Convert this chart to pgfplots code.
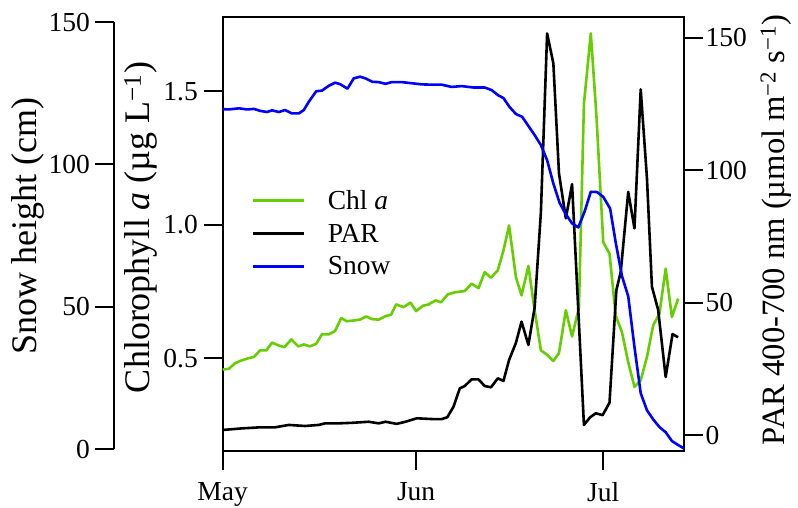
\documentclass[border=0pt]{standalone}
\usepackage{fontspec}
\setmainfont{Liberation Serif}
\usepackage{pgfplots}
\pgfplotsset{compat=1.18}
\definecolor{chlgreen}{RGB}{102,205,0}
\newcommand\tickfont{\fontsize{27.5}{30}\selectfont}

\begin{document}
\begin{tikzpicture}
\useasboundingbox (-222.7pt,-57pt) rectangle (575.3pt,451pt);
\pgfplotsset{
  base/.style={
    at={(0pt,0pt)}, anchor=south west,
    scale only axis, width=461.3pt, height=433.7pt,
    xmin=0, xmax=73.94,
    tick align=outside, major tick length=19pt,
    every tick/.style={black, line width=2pt},
    axis line style={line width=2pt, -},
    tick label style={font=\tickfont},
  },
  dline/.style={line width=2.6pt, line join=round},
}
% Chlorophyll axis (main frame)
\begin{axis}[base,
  ymin=0.1528, ymax=1.778,
  xtick pos=left, ytick pos=left,
  xtick={0,31,61}, xticklabels={May,Jun,Jul},
  ytick={0.5,1.0,1.5}, yticklabels={0.5,1.0,1.5},
  xticklabel style={anchor=north, inner sep=0pt, yshift=-12pt},
  yticklabel style={anchor=east, inner sep=0pt, xshift=-5.7pt},
  legend cell align=left,
  legend image code/.code={\draw[#1] (0pt,0pt) -- (51pt,0pt);},
  legend style={at={(rel axis cs:0.0629,0.502)}, anchor=west,
    draw=none, fill=none, inner sep=0pt, outer sep=0pt,
    font=\tickfont, column sep=20.5pt, row sep=9pt},
]
\addplot[chlgreen, dline] table {
0 0.458
1 0.461
2 0.482
3.1 0.493
4.2 0.501
5 0.505
6 0.530
7 0.530
7.9 0.559
9 0.548
9.9 0.542
11 0.571
12.1 0.545
13 0.552
14 0.545
15 0.555
15.9 0.590
17 0.590
18 0.602
19 0.651
19.9 0.639
21 0.642
22 0.645
23 0.657
23.9 0.647
25 0.645
26.1 0.658
27 0.664
27.8 0.702
29 0.692
30.1 0.709
31 0.677
32.1 0.697
33 0.702
34.1 0.717
35 0.710
36.1 0.740
37.3 0.748
38.8 0.752
39.9 0.780
41 0.763
42 0.823
43 0.802
44.1 0.830
45 0.904
45.9 0.998
47 0.804
47.9 0.736
49 0.846
50 0.680
51 0.530
51.9 0.515
53 0.490
53.9 0.520
55 0.680
56 0.582
57.1 0.690
57.9 1.454
59 1.718
59.9 1.410
61 0.935
62 0.892
63 0.660
64 0.598
65 0.485
66 0.393
67 0.418
68 0.505
69 0.624
70 0.667
71 0.836
72 0.655
73 0.724
};
\addlegendentry{Chl \textit{a}}
\addlegendimage{black, dline}
\addlegendentry{PAR}
\addlegendimage{blue, dline}
\addlegendentry{Snow}
\end{axis}
% PAR axis (right)
\begin{axis}[base,
  ymin=-6.04, ymax=157.7,
  axis y line*=right, axis x line=none,
  ytick={0,50,100,150}, yticklabels={0,50,100,150},
  yticklabel style={anchor=west, inner sep=0pt, xshift=2.5pt},
]
\addplot[black, dline] table {
0 1.9
3.1 2.5
6 2.9
8.4 2.9
10.6 3.8
13.2 3.4
15.4 3.8
16.4 4.4
18.6 4.4
20.7 4.6
23.4 5.0
25 4.4
26.1 5.0
27.9 4.2
29.3 5.0
31.1 6.3
33.8 6.0
35.1 6.0
36 6.7
37 10.7
38 17.6
38.8 18.5
39.9 21.0
41 21.0
42 18.5
43 18.0
44.1 21.4
45 20.4
45.9 28.3
47 34.8
47.9 42.8
49 34.0
50 48.2
51 84
52 151.6
53 140.3
53.9 98.8
55 81.8
56 94.7
57 47
57.9 3.8
58.9 6.7
59.8 8.2
60.9 7.5
62 12.2
63.1 54.7
63.8 61.6
65 91.8
66 78.0
67 130.5
68 97
68.8 56.0
69.8 47.2
71 21.9
72.1 38.1
73 36.9
};
\end{axis}
% Snow data
\begin{axis}[base, ymin=-0.6, ymax=151.65, hide axis]
\addplot[blue, dline] table {
0 119.4
1 119.3
2.6 119.7
3.9 119.3
5 119.5
6 118.8
7.1 118.4
7.9 119.0
9 118.4
10 119.1
11.1 117.9
12.2 117.9
13 119.1
13.8 122.0
15 125.7
15.9 125.9
17 127.6
18 128.7
18.8 128.2
20 126.6
21 130.2
22 130.8
22.9 130.2
24 129.0
25 128.9
26.1 128.3
27.1 128.9
28.7 128.9
30.3 128.5
31.9 128.1
33.5 128.0
35.1 128.0
36.7 127.2
38.3 127.5
40.2 127.0
42 127.0
43.1 126.1
44.2 124.2
45 123.3
46 120.1
47 117.7
48 116.7
49 113.5
50 110.3
51 106.8
52 101.5
53 93.3
54 86.5
55 82.5
56 79.3
57 77.9
58 83.4
59 90.4
60 90.3
61 88.6
62.1 84.5
63 72.5
64 60.8
65 53.7
66 35.9
67 19.7
68 13.7
69 10.5
70 7.8
71 6.0
72 2.9
73 1.5
74 0.2
};
\end{axis}
% Snow axis (outer left)
\begin{axis}[
  at={(-108.7pt,1.7pt)}, anchor=south west,
  scale only axis, width=10pt, height=427.3pt,
  xmin=0, xmax=1, ymin=0, ymax=150,
  axis y line*=left, axis x line=none,
  tick align=outside, major tick length=19pt,
  every tick/.style={black, line width=2pt},
  axis line style={line width=2pt, -},
  tick label style={font=\tickfont},
  ytick={0,50,100,150}, yticklabels={0,50,100,150},
  yticklabel style={anchor=east, inner sep=0pt, xshift=-5pt},
]
\end{axis}
\node[rotate=90, font=\fontsize{36}{40}\selectfont] at (-195.2pt,225pt) {Snow height (cm)};
\node[rotate=90, font=\fontsize{36}{40}\selectfont] at (-81.7pt,223.5pt) {Chlorophyll \textit{a} (µg L\textsuperscript{−1})};
\node[rotate=90, font=\fontsize{32.6}{36}\selectfont] at (553.3pt,221pt) {PAR 400-700 nm (µmol m\textsuperscript{−2} s\textsuperscript{−1})};
\end{tikzpicture}
\end{document}
